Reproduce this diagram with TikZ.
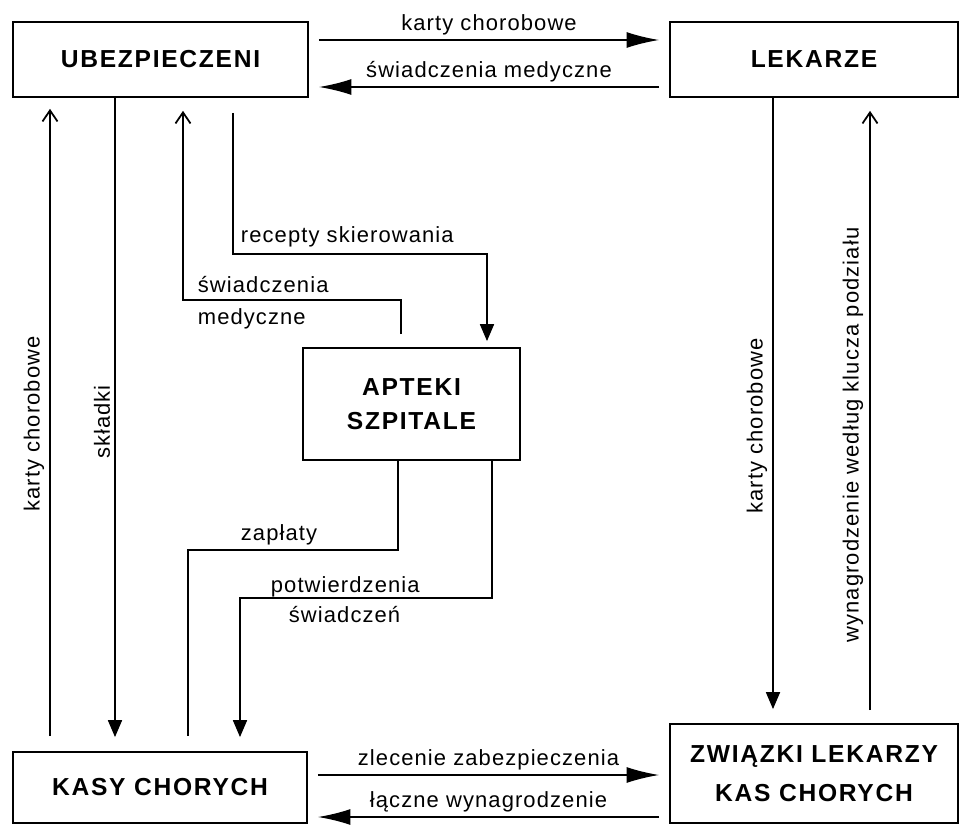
\documentclass[tikz,border=0pt]{standalone}
\usepackage{fontspec}
\setmainfont{Liberation Sans}
\newfontfamily\lblfont[LetterSpace=5]{Liberation Sans}
\newfontfamily\boxfont[LetterSpace=7]{Liberation Sans}
\usetikzlibrary{arrows.meta}
\begin{document}
\begin{tikzpicture}[line width=1pt,
  box/.style={draw, inner sep=0pt, align=center,
    font=\boxfont\bfseries\fontsize{14}{19}\selectfont},
  lbl/.style={inner sep=0pt, font=\lblfont\fontsize{12.5}{15}\selectfont},
  big/.style={-{Latex[length=6.5mm,width=3.2mm]}},
  dnar/.style={-{Triangle[length=3.4mm,width=2.8mm]}},
  upar/.style={-{Straight Barb[length=2.2mm,width=3mm]}}]
\useasboundingbox (0,0) rectangle (19.2,-16.52) ;
% the five boxes
\node [box, minimum width=5.9cm, minimum height=1.5cm] (ub) at (3.21,-1.19) {UBEZPIECZENI} ;
\node [box, minimum width=5.76cm, minimum height=1.5cm] (lek) at (16.28,-1.19) {LEKARZE} ;
\node [box, minimum width=5.88cm, minimum height=1.42cm] (kasy) at (3.2,-15.75) {KASY CHORYCH} ;
\node [box, minimum width=5.76cm, minimum height=1.98cm] (zw) at (16.28,-15.47) {ZWIĄZKI LEKARZY\\[3.5pt]KAS CHORYCH} ;
\node [box, minimum width=4.34cm, minimum height=2.24cm] (apt) at (8.23,-8.08) {APTEKI\\SZPITALE} ;
% top and bottom
\draw [big, shorten <=2mm, shorten >=2mm] (ub.east |- 0,-0.8) -- (lek.west |- 0,-0.8)
  node [lbl, midway, above, inner sep=2.5pt] {karty chorobowe} ;
\draw [big, shorten <=2mm, shorten >=2mm] (lek.west |- 0,-1.74) -- (ub.east |- 0,-1.74)
  node [lbl, midway, above, inner sep=2.5pt] {świadczenia medyczne} ;
\draw [big, shorten <=2mm, shorten >=2mm] (kasy.east |- 0,-15.5) -- (zw.west |- 0,-15.5)
  node [lbl, midway, above, inner sep=2.5pt] {zlecenie zabezpieczenia} ;
\draw [big, shorten <=2mm, shorten >=2mm] (zw.west |- 0,-16.34) -- (kasy.east |- 0,-16.34)
  node [lbl, midway, above, inner sep=2.5pt] {łączne wynagrodzenie} ;
% left side
\draw [upar, shorten <=3mm, shorten >=2.2mm] (kasy.north -| 1,0) -- (ub.south -| 1,0) ;
\node [lbl, rotate=90] (kch1) at (0.68,-8.48) {karty chorobowe} ;
\draw [dnar, shorten >=2.8mm] (ub.south -| 2.3,0) -- (kasy.north -| 2.3,0) ;
\node [lbl, rotate=90] (skl) at (2.04,-8.44) {składki} ;
% apteki
\draw [upar, shorten <=2.6mm, shorten >=2.6mm] (apt.north -| 8.02,0) -- (8.02,-6.0) -| (ub.south -| 3.66,0) ;
\node [lbl, anchor=base west] (sw1) at (3.94,-5.86) {świadczenia} ;
\node [lbl, anchor=base west] (sw2) at (3.94,-6.5) {medyczne} ;
\draw [dnar, shorten <=3mm, shorten >=1.2mm] (ub.south -| 4.66,0) -- (4.66,-5.08) -| (apt.north -| 9.74,0) ;
\node [lbl, anchor=base west] (rec) at (4.8,-4.86) {recepty skierowania} ;
\draw [shorten >=3mm] (apt.south -| 7.96,0) -- (7.96,-11.0) -| (kasy.north -| 3.76,0) ;
\node [lbl, anchor=base west] (zap) at (4.8,-10.8) {zapłaty} ;
\draw [dnar, shorten >=2.8mm] (apt.south -| 9.84,0) -- (9.84,-11.96) -| (kasy.north -| 4.8,0) ;
\node [lbl, anchor=base west] (pot1) at (5.4,-11.84) {potwierdzenia} ;
\node [lbl, anchor=base west] (pot2) at (5.76,-12.44) {świadczeń} ;
% right side
\draw [dnar, shorten >=2.8mm] (lek.south -| 15.46,0) -- (zw.north -| 15.46,0) ;
\node [lbl, rotate=90] (kch2) at (15.14,-8.52) {karty chorobowe} ;
\draw [upar, shorten <=2.6mm, shorten >=2.6mm] (zw.north -| 17.4,0) -- (lek.south -| 17.4,0) ;
\node [lbl, rotate=90] (wyn) at (17.06,-8.7) {wynagrodzenie według klucza podziału} ;
\end{tikzpicture}
\end{document}
